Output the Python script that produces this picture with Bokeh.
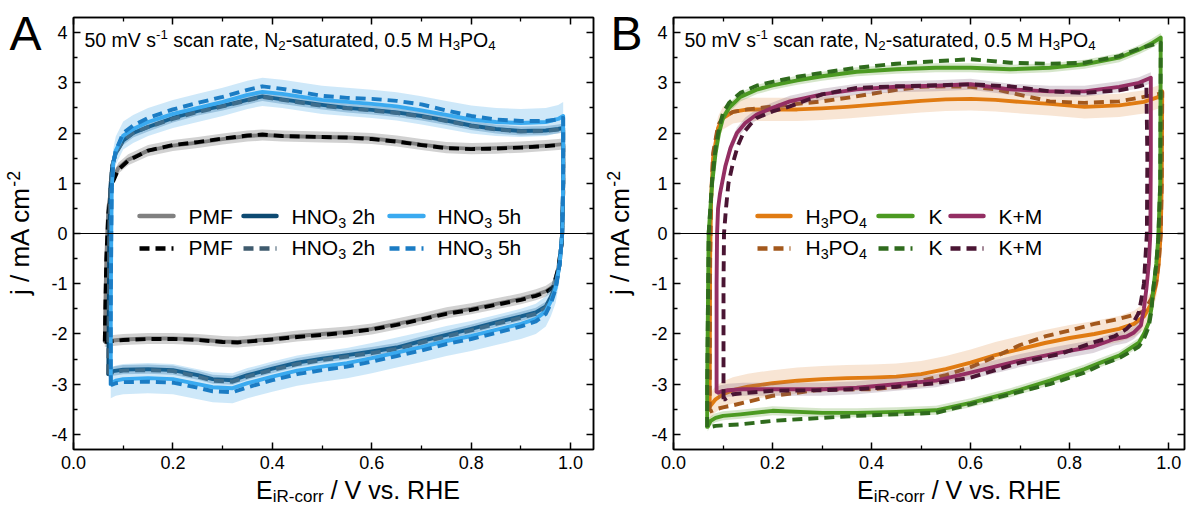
import numpy as np
from bokeh.plotting import figure
from bokeh.models import Range1d, LinearAxis, FixedTicker, Span, Label, Arrow
from bokeh.layouts import row, column
from bokeh.embed import file_html
from bokeh.resources import INLINE

# ------------------------------------------------------------------ data
X_TICKS = [0.0, 0.2, 0.4, 0.6, 0.8, 1.0]
X_TICK_LABELS = ["0.0", "0.2", "0.4", "0.6", "0.8", "1.0"]
X_MINOR = [0.1, 0.3, 0.5, 0.7, 0.9]
Y_TICKS = [-4, -3, -2, -1, 0, 1, 2, 3, 4]
Y_TICK_LABELS = ["-4", "-3", "-2", "-1", "0", "1", "2", "3", "4"]
Y_MINOR = [-3.5, -2.5, -1.5, -0.5, 0.5, 1.5, 2.5, 3.5]

PANEL_LETTERS = ["A", "B"]
CONDITIONS = "50 mV s^{-1} scan rate, N_{2}-saturated, 0.5 M H_{3}PO_{4}"
X_TITLE = "E_{iR-corr} / V vs. RHE"
Y_TITLE = "j / mA cm^{-2}"
LEGEND_A = ["PMF", "HNO_{3} 2h", "HNO_{3} 5h"]
LEGEND_B = ["H_{3}PO_{4}", "K", "K+M"]

# ---- panel A : PMF
PMF_UP_X = [0.063, 0.064, 0.066, 0.07, 0.078, 0.09, 0.11, 0.15, 0.2, 0.25, 0.3, 0.35, 0.38, 0.42, 0.5, 0.55, 0.6, 0.65, 0.7, 0.75, 0.8, 0.85, 0.9, 0.95, 0.975, 0.985]
PMF_UP_J = [-2.15, -1.5, -0.5, 0.5, 1.05, 1.3, 1.47, 1.65, 1.75, 1.81, 1.88, 1.94, 1.96, 1.94, 1.92, 1.91, 1.89, 1.84, 1.77, 1.71, 1.69, 1.7, 1.72, 1.75, 1.77, 1.78]
PMF_UP_J_D = [-2.15, -1.5, -0.5, 0.4, 1.0, 1.27, 1.45, 1.65, 1.76, 1.82, 1.89, 1.95, 1.97, 1.94, 1.92, 1.91, 1.88, 1.83, 1.76, 1.7, 1.68, 1.69, 1.71, 1.74, 1.76, 1.77]
PMF_DN_X = [0.985, 0.985, 0.982, 0.975, 0.965, 0.95, 0.93, 0.9, 0.85, 0.8, 0.75, 0.7, 0.65, 0.6, 0.55, 0.5, 0.45, 0.4, 0.33, 0.3, 0.25, 0.2, 0.15, 0.1, 0.08, 0.068, 0.063]
PMF_DN_J = [1.78, 0.8, -0.2, -0.7, -1.05, -1.15, -1.22, -1.3, -1.4, -1.5, -1.58, -1.7, -1.8, -1.9, -1.96, -2.0, -2.04, -2.1, -2.16, -2.15, -2.11, -2.09, -2.09, -2.11, -2.13, -2.15, -2.15]
PMF_DN_J_D = [1.77, 0.8, -0.2, -0.7, -1.07, -1.17, -1.24, -1.32, -1.42, -1.52, -1.6, -1.71, -1.82, -1.91, -1.97, -2.02, -2.06, -2.11, -2.17, -2.16, -2.12, -2.1, -2.1, -2.12, -2.14, -2.16, -2.15]
PMF_BAND = [0.11, 0.11]

# ---- panel A : HNO3 2h
H2_UP_X = [0.07, 0.071, 0.072, 0.074, 0.078, 0.085, 0.1, 0.12, 0.15, 0.2, 0.25, 0.3, 0.35, 0.38, 0.42, 0.5, 0.55, 0.6, 0.65, 0.7, 0.75, 0.8, 0.85, 0.9, 0.95, 0.975, 0.985]
H2_UP_J = [-2.8, -1.5, 0.0, 0.9, 1.35, 1.6, 1.85, 2.0, 2.12, 2.3, 2.44, 2.54, 2.66, 2.73, 2.67, 2.56, 2.5, 2.46, 2.41, 2.34, 2.25, 2.15, 2.08, 2.04, 2.05, 2.08, 2.1]
H2_UP_J_D = [-2.8, -1.5, 0.0, 0.9, 1.35, 1.6, 1.85, 2.0, 2.12, 2.28, 2.42, 2.53, 2.65, 2.72, 2.66, 2.54, 2.49, 2.45, 2.4, 2.33, 2.24, 2.14, 2.07, 2.03, 2.04, 2.07, 2.09]
H2_DN_X = [0.985, 0.985, 0.983, 0.978, 0.97, 0.96, 0.95, 0.93, 0.9, 0.85, 0.8, 0.75, 0.7, 0.65, 0.6, 0.55, 0.5, 0.45, 0.4, 0.35, 0.32, 0.28, 0.25, 0.2, 0.15, 0.1, 0.08, 0.072]
H2_DN_J = [2.1, 1.0, 0.0, -0.6, -1.03, -1.27, -1.45, -1.57, -1.65, -1.77, -1.9, -2.02, -2.14, -2.27, -2.35, -2.42, -2.49, -2.57, -2.69, -2.82, -2.92, -2.9, -2.82, -2.72, -2.7, -2.71, -2.74, -2.78]
H2_DN_J_D = [2.09, 1.0, 0.0, -0.6, -1.05, -1.3, -1.48, -1.6, -1.68, -1.8, -1.93, -2.05, -2.17, -2.3, -2.38, -2.45, -2.52, -2.6, -2.72, -2.85, -2.95, -2.93, -2.85, -2.74, -2.72, -2.73, -2.76, -2.8]
H2_BAND = [0.09, 0.09]

# ---- panel A : HNO3 5h
H5_UP_X = [0.075, 0.075, 0.076, 0.077, 0.08, 0.085, 0.1, 0.12, 0.15, 0.2, 0.25, 0.3, 0.35, 0.38, 0.42, 0.5, 0.55, 0.6, 0.65, 0.7, 0.75, 0.8, 0.85, 0.9, 0.95, 0.975, 0.985]
H5_UP_J = [-3.0, -1.5, 0.0, 0.9, 1.4, 1.65, 1.95, 2.08, 2.22, 2.38, 2.5, 2.62, 2.76, 2.82, 2.78, 2.66, 2.62, 2.58, 2.53, 2.45, 2.36, 2.27, 2.22, 2.2, 2.22, 2.28, 2.34]
H5_UP_J_D = [-3.02, -1.5, 0.0, 0.9, 1.4, 1.65, 2.0, 2.15, 2.3, 2.47, 2.6, 2.72, 2.86, 2.93, 2.88, 2.74, 2.7, 2.68, 2.64, 2.57, 2.45, 2.34, 2.27, 2.24, 2.24, 2.27, 2.3]
H5_DN_X = [0.985, 0.985, 0.983, 0.978, 0.97, 0.96, 0.95, 0.93, 0.9, 0.85, 0.8, 0.75, 0.7, 0.65, 0.6, 0.55, 0.5, 0.45, 0.4, 0.35, 0.32, 0.28, 0.25, 0.2, 0.15, 0.1, 0.085, 0.075]
H5_DN_J = [2.34, 1.0, 0.0, -0.6, -1.08, -1.35, -1.55, -1.7, -1.8, -1.92, -2.04, -2.14, -2.26, -2.37, -2.48, -2.58, -2.65, -2.73, -2.85, -2.98, -3.08, -3.06, -3.0, -2.9, -2.88, -2.9, -2.93, -2.98]
H5_DN_J_D = [2.3, 1.0, 0.0, -0.6, -1.1, -1.4, -1.6, -1.75, -1.85, -1.98, -2.1, -2.2, -2.33, -2.44, -2.55, -2.65, -2.72, -2.8, -2.92, -3.06, -3.16, -3.14, -3.07, -2.97, -2.95, -2.96, -2.98, -3.02]
H5_BAND = [0.28, 0.3]

# ---- panel B : H3PO4
HP_UP_X = [0.073, 0.0735, 0.074, 0.076, 0.08, 0.09, 0.1, 0.12, 0.15, 0.2, 0.25, 0.3, 0.35, 0.4, 0.45, 0.5, 0.55, 0.6, 0.65, 0.7, 0.76, 0.83, 0.9, 0.95, 0.98, 0.987]
HP_UP_J = [-3.45, -2.0, -0.5, 0.7, 1.5, 2.1, 2.3, 2.42, 2.47, 2.47, 2.47, 2.49, 2.52, 2.56, 2.6, 2.64, 2.67, 2.68, 2.66, 2.62, 2.58, 2.52, 2.55, 2.62, 2.72, 2.83]
HP_UP_J_D = [-3.55, -2.0, -0.5, 0.7, 1.6, 2.15, 2.32, 2.42, 2.47, 2.53, 2.58, 2.63, 2.7, 2.78, 2.86, 2.92, 2.93, 2.92, 2.87, 2.76, 2.63, 2.6, 2.63, 2.72, 2.78, 2.8]
HP_DN_X = [0.987, 0.986, 0.984, 0.98, 0.975, 0.965, 0.95, 0.93, 0.9, 0.85, 0.8, 0.75, 0.7, 0.65, 0.6, 0.55, 0.5, 0.45, 0.4, 0.35, 0.3, 0.25, 0.2, 0.15, 0.12, 0.1, 0.085, 0.073]
HP_DN_J = [2.83, 1.0, 0.0, -0.6, -1.0, -1.4, -1.65, -1.8, -1.9, -2.0, -2.08, -2.18, -2.3, -2.42, -2.57, -2.7, -2.8, -2.85, -2.87, -2.88, -2.9, -2.93, -2.98, -3.05, -3.12, -3.2, -3.3, -3.45]
HP_DN_J_D = [2.8, 1.0, 0.0, -0.55, -0.95, -1.3, -1.55, -1.62, -1.7, -1.8, -1.93, -2.05, -2.22, -2.45, -2.66, -2.82, -2.93, -3.05, -3.1, -3.1, -3.1, -3.17, -3.23, -3.35, -3.42, -3.46, -3.5, -3.55]
HP_BAND = [0.23, 0.26]

# ---- panel B : K
K_UP_X = [0.068, 0.068, 0.069, 0.07, 0.071, 0.078, 0.085, 0.092, 0.1, 0.112, 0.135, 0.17, 0.2, 0.25, 0.3, 0.37, 0.45, 0.53, 0.6, 0.68, 0.76, 0.83, 0.9, 0.94, 0.965, 0.984]
K_UP_J = [-3.85, -3.0, -2.0, -1.0, 0.0, 1.0, 1.6, 2.0, 2.3, 2.5, 2.72, 2.87, 2.95, 3.05, 3.13, 3.22, 3.27, 3.3, 3.3, 3.27, 3.3, 3.37, 3.5, 3.66, 3.78, 3.9]
K_UP_J_D = [-3.85, -3.0, -2.0, -1.0, 0.0, 1.05, 1.7, 2.1, 2.4, 2.6, 2.8, 2.95, 3.02, 3.12, 3.2, 3.3, 3.38, 3.43, 3.47, 3.4, 3.38, 3.4, 3.53, 3.68, 3.75, 3.8]
K_DN_X = [0.984, 0.983, 0.979, 0.975, 0.969, 0.965, 0.96, 0.95, 0.94, 0.92, 0.9, 0.86, 0.83, 0.76, 0.68, 0.6, 0.53, 0.45, 0.37, 0.3, 0.2, 0.135, 0.1, 0.085, 0.075, 0.069]
K_DN_J = [3.9, 1.0, -0.1, -0.6, -1.1, -1.5, -1.77, -2.0, -2.17, -2.3, -2.43, -2.58, -2.7, -2.93, -3.17, -3.37, -3.52, -3.55, -3.57, -3.57, -3.53, -3.6, -3.63, -3.67, -3.73, -3.85]
K_DN_J_D = [3.8, 1.0, -0.1, -0.6, -1.1, -1.55, -1.85, -2.1, -2.25, -2.37, -2.48, -2.63, -2.77, -3.0, -3.2, -3.4, -3.57, -3.6, -3.63, -3.67, -3.73, -3.8, -3.82, -3.83, -3.85, -3.87]
K_BAND = [0.09, 0.09]

# ---- panel B : K+M
KM_UP_X = [0.087, 0.087, 0.087, 0.088, 0.09, 0.094, 0.098, 0.105, 0.115, 0.128, 0.145, 0.168, 0.2, 0.235, 0.3, 0.37, 0.45, 0.53, 0.6, 0.68, 0.76, 0.83, 0.9, 0.94, 0.964]
KM_UP_J = [-3.15, -2.0, -1.0, 0.0, 0.5, 0.8, 1.0, 1.35, 1.7, 2.0, 2.2, 2.37, 2.5, 2.63, 2.77, 2.87, 2.92, 2.94, 2.97, 2.87, 2.83, 2.83, 2.92, 3.0, 3.1]
KM_DN_X = [0.964, 0.964, 0.963, 0.96, 0.955, 0.95, 0.944, 0.93, 0.915, 0.89, 0.848, 0.78, 0.7, 0.6, 0.53, 0.45, 0.37, 0.3, 0.2, 0.14, 0.11, 0.095, 0.09]
KM_DN_J = [3.1, 1.5, 0.0, -0.6, -1.1, -1.5, -1.83, -1.97, -2.05, -2.1, -2.25, -2.37, -2.53, -2.77, -2.93, -3.0, -3.07, -3.1, -3.1, -3.1, -3.12, -3.15, -3.17]
KM_UP_X_D = [0.101, 0.101, 0.101, 0.102, 0.106, 0.111, 0.12, 0.13, 0.141, 0.155, 0.168, 0.2, 0.235, 0.3, 0.37, 0.45, 0.53, 0.6, 0.68, 0.76, 0.83, 0.9, 0.94, 0.955]
KM_UP_J_D = [-3.3, -2.0, -1.0, 0.0, 0.5, 1.0, 1.4, 1.75, 2.0, 2.17, 2.3, 2.43, 2.53, 2.77, 2.9, 2.93, 2.95, 2.97, 2.93, 2.83, 2.8, 2.85, 2.93, 2.97]
KM_DN_X_D = [0.955, 0.957, 0.956, 0.953, 0.95, 0.945, 0.94, 0.93, 0.915, 0.89, 0.848, 0.78, 0.7, 0.6, 0.53, 0.45, 0.37, 0.3, 0.2, 0.15, 0.12, 0.104]
KM_DN_J_D = [2.97, 1.5, 0.0, -0.5, -1.0, -1.3, -1.57, -1.75, -1.9, -2.05, -2.17, -2.4, -2.57, -2.87, -2.98, -3.05, -3.1, -3.12, -3.13, -3.17, -3.2, -3.3]
KM_BAND = [0.11, 0.13]

# ------------------------------------------------------------------ style / layout
FONT = "Liberation Sans"
H = 506
TOP = 17
FRAME_H = 432
MAIN_BOTTOM = 27
MAIN_H = TOP + FRAME_H + MAIN_BOTTOM      # 476
STRIP_H = H - MAIN_H                      # 30
STRIP_W = 48
FRAME_BOTTOM = TOP + FRAME_H              # canvas y of the x axis (449)
MID = 0.35                                # labels are placed by their middle: baseline = y + MID*size

AW = {' ': 278, '+': 584, ',': 278, '-': 333, '.': 278, '/': 278,
      'A': 667, 'B': 667, 'E': 667, 'F': 611, 'H': 722, 'K': 667, 'M': 833, 'N': 722,
      'O': 778, 'P': 667, 'R': 722, 'V': 667,
      'a': 556, 'c': 500, 'd': 556, 'e': 556, 'h': 556, 'i': 222, 'j': 222, 'm': 833,
      'n': 556, 'o': 556, 'r': 333, 's': 500, 't': 278, 'u': 556, 'v': 500}


def tw(s, size):
    return sum(AW.get(c, 556) for c in s) * size / 1000.0


def parse(s):
    parts, buf, i = [], "", 0
    while i < len(s):
        if s[i] in "_^" and i + 1 < len(s) and s[i + 1] == "{":
            if buf:
                parts.append((buf, "n"))
                buf = ""
            k = s.index("}", i)
            parts.append((s[i + 2:k], "sub" if s[i] == "_" else "sup"))
            i = k + 1
        else:
            buf += s[i]
            i += 1
    if buf:
        parts.append((buf, "n"))
    return parts


def rich(p, sx, sy, s, size, align="left", angle=0.0, color="black", sub=0.2):
    """sx, sy: baseline start (screen px, y up)."""
    parts = parse(s)
    sizes = [size if k == "n" else size * 0.68 for _, k in parts]
    total = sum(tw(t, fs) for (t, _), fs in zip(parts, sizes))
    adv = -total / 2 if align == "center" else 0.0
    for (t, k), fs in zip(parts, sizes):
        shift = 0.0 if k == "n" else (-sub * size if k == "sub" else 0.38 * size)
        shift += MID * fs
        lead = len(t) - len(t.lstrip(" "))
        a = adv + tw(" " * lead, fs)
        if angle == 0.0:
            lx, ly = sx + a, sy + shift
        else:
            lx, ly = sx - shift, sy + a
        p.add_layout(Label(x=lx, y=ly, x_units="screen", y_units="screen", text=t.strip(" "),
                           text_font=FONT, text_font_size=f"{fs:.1f}px", text_color=color,
                           text_baseline="alphabetic", text_align="left", angle=angle))
        adv += tw(t, fs)


def style_axis(ax, labels):
    ax.axis_line_width = 1.5
    ax.axis_line_color = "black"
    ax.major_tick_in = 7
    ax.major_tick_out = 0
    ax.minor_tick_in = 4
    ax.minor_tick_out = 0
    ax.major_tick_line_width = 1.5
    ax.minor_tick_line_width = 1.3
    ax.major_tick_line_color = "black"
    ax.minor_tick_line_color = "black"
    ax.major_label_text_font = FONT
    ax.major_label_text_font_size = "18px"
    ax.major_label_text_color = "black"
    ax.major_label_standoff = 6 if labels else 0


def make_fig(width, left, right, xmax):
    p = figure(width=width, height=MAIN_H, x_range=Range1d(0, xmax), y_range=Range1d(-4.3, 4.3),
               output_backend="svg", toolbar_location=None, title=None,
               min_border_left=left, min_border_right=right,
               min_border_top=TOP, min_border_bottom=MAIN_BOTTOM,
               x_axis_location=None, y_axis_location=None)
    p.grid.visible = False
    p.outline_line_color = "black"
    p.outline_line_width = 1.5
    p.background_fill_color = "white"
    p.border_fill_color = "white"
    xt = FixedTicker(ticks=X_TICKS, minor_ticks=X_MINOR)
    yt = FixedTicker(ticks=Y_TICKS, minor_ticks=Y_MINOR)
    for loc in ["below", "above"]:
        lab = X_TICK_LABELS if loc == "below" else [""] * len(X_TICKS)
        ax = LinearAxis(ticker=xt, major_label_overrides=dict(zip(X_TICKS, lab)))
        style_axis(ax, loc == "below")
        p.add_layout(ax, loc)
    for loc in ["left", "right"]:
        lab = Y_TICK_LABELS if loc == "left" else [""] * len(Y_TICKS)
        ax = LinearAxis(ticker=yt, major_label_overrides=dict(zip(Y_TICKS, lab)))
        style_axis(ax, loc == "left")
        p.add_layout(ax, loc)
    p.add_layout(Span(location=0, dimension="width", line_color="black", line_width=1.2))
    return p


def make_strip(width, height):
    s = figure(width=width, height=height, output_backend="svg", toolbar_location=None, title=None,
               min_border=0, min_border_left=0, min_border_right=0, min_border_top=0,
               min_border_bottom=0, x_axis_location=None, y_axis_location=None,
               x_range=Range1d(0, 1), y_range=Range1d(0, 1))
    s.grid.visible = False
    s.outline_line_color = None
    s.background_fill_color = "white"
    s.border_fill_color = "white"
    return s


def band(p, x, j, w, color, alpha):
    x = np.asarray(x, float)
    j = np.asarray(j, float)
    xs = np.concatenate([x, x[::-1]])
    ys = np.concatenate([j + w, (j - w)[::-1]])
    p.patch(xs, ys, fill_color=color, fill_alpha=alpha, line_color=None)


def loop(p, ux, uj, dx, dj, color, width, dash="solid"):
    xs = list(ux) + list(dx[1:]) + [ux[0]]
    ys = list(uj) + list(dj[1:]) + [uj[0]]
    p.line(xs, ys, line_color=color, line_width=width, line_dash=dash,
           line_join="round", line_cap="butt" if dash != "solid" else "round")


DASH = "10 6"
LW = 3.9


def series(p, ux, uj, dx, dj, uxd, ujd, dxd, djd, bw, solid_c, dash_c, band_c, band_a):
    band(p, ux, uj, bw[0], band_c, band_a)
    band(p, dx, dj, bw[1], band_c, band_a)
    loop(p, ux, uj, dx, dj, solid_c, LW)
    loop(p, uxd, ujd, dxd, djd, dash_c, LW, DASH)


# panel geometry (canvas px); frame left edges in page coords: A 72, B 673
WA, LA, RA = 595, 72, 2
WB, LB, RB = 592, 78, 3
XMAX_A = 1.046
XMAX_B = 1.032

pA = make_fig(WA - STRIP_W, LA - STRIP_W, RA, XMAX_A)
pB = make_fig(WB - STRIP_W, LB - STRIP_W, RB, XMAX_B)

# colours
C_PMF, C_PMF_D = "#808080", "#000000"
C_H2, C_H2_D = "#0d4a72", "#3f5b6e"
C_H5, C_H5_D = "#3aaaf0", "#1b7cc4"
C_HP, C_HP_D = "#e07b12", "#a3581c"
C_K, C_K_D = "#4c9a22", "#2f6b1d"
C_KM, C_KM_D = "#942e63", "#4a1533"

series(pA, PMF_UP_X, PMF_UP_J, PMF_DN_X, PMF_DN_J, PMF_UP_X, PMF_UP_J_D, PMF_DN_X, PMF_DN_J_D,
       PMF_BAND, C_PMF, C_PMF_D, "#7a7a7a", 0.35)
series(pA, H2_UP_X, H2_UP_J, H2_DN_X, H2_DN_J, H2_UP_X, H2_UP_J_D, H2_DN_X, H2_DN_J_D,
       H2_BAND, C_H2, C_H2_D, "#1e5d8a", 0.3)
series(pA, H5_UP_X, H5_UP_J, H5_DN_X, H5_DN_J, H5_UP_X, H5_UP_J_D, H5_DN_X, H5_DN_J_D,
       H5_BAND, C_H5, C_H5_D, "#3aa2e8", 0.25)

series(pB, HP_UP_X, HP_UP_J, HP_DN_X, HP_DN_J, HP_UP_X, HP_UP_J_D, HP_DN_X, HP_DN_J_D,
       HP_BAND, C_HP, C_HP_D, "#e08a3a", 0.22)
series(pB, K_UP_X, K_UP_J, K_DN_X, K_DN_J, K_UP_X, K_UP_J_D, K_DN_X, K_DN_J_D,
       K_BAND, C_K, C_K_D, "#5a9a30", 0.25)
series(pB, KM_UP_X, KM_UP_J, KM_DN_X, KM_DN_J, KM_UP_X_D, KM_UP_J_D, KM_DN_X_D, KM_DN_J_D,
       KM_BAND, C_KM, C_KM_D, "#7a5a78", 0.25)


def decorate(p, page_left, legend, solid_cols, dash_cols, leg_x):
    def sy(cy):
        return FRAME_BOTTOM - cy
    rich(p, 11, sy(46), CONDITIONS, 19.5)
    for r, (cols, dash) in enumerate([(solid_cols, "solid"), (dash_cols, DASH)]):
        ly = [215.5, 248][r]
        lb = [223, 254][r]
        for k, (lab, c) in enumerate(zip(legend, cols)):
            x0, x1, xt = leg_x[k]
            p.add_layout(Arrow(x_start=x0 - page_left, y_start=sy(ly), x_end=x1 - page_left, y_end=sy(ly),
                               start_units="screen", end_units="screen", start=None, end=None,
                               line_color=c, line_width=4.5, line_dash=dash,
                               line_cap="round" if dash == "solid" else "butt"))
            rich(p, xt - page_left, sy(lb), lab, 21)


decorate(pA, 72, LEGEND_A, [C_PMF, C_H2, C_H5], [C_PMF_D, C_H2_D, C_H5_D],
         [(138, 172, 187), (242, 275, 290), (388, 422, 436)])
decorate(pB, 673, LEGEND_B, [C_HP, C_K, C_KM], [C_HP_D, C_K_D, C_KM_D],
         [(757, 790, 805), (878, 912, 928), (950, 983, 998)])


def left_strip(letter, letter_x, title_x):
    s = make_strip(STRIP_W, H)
    rich(s, letter_x, H - 50, letter, 48)
    rich(s, title_x, H - 232.5, Y_TITLE, 26, align="center", angle=np.pi / 2)
    return s


def bottom_strip(width, center_x):
    s = make_strip(width, STRIP_H)
    rich(s, center_x, STRIP_H - (498 - MAIN_H), X_TITLE, 25, align="center", sub=0.16)
    return s


sLA = left_strip(PANEL_LETTERS[0], 9, 29)
sLB = left_strip(PANEL_LETTERS[1], 15, 34)
sBA = bottom_strip(WA - STRIP_W, (LA - STRIP_W) + (WA - LA - RA) / 2)
sBB = bottom_strip(WB - STRIP_W, (LB - STRIP_W) + (WB - LB - RB) / 2)

layout = row(sLA, column(pA, sBA), sLB, column(pB, sBB))
open("out.html", "w").write(file_html(layout, INLINE))
